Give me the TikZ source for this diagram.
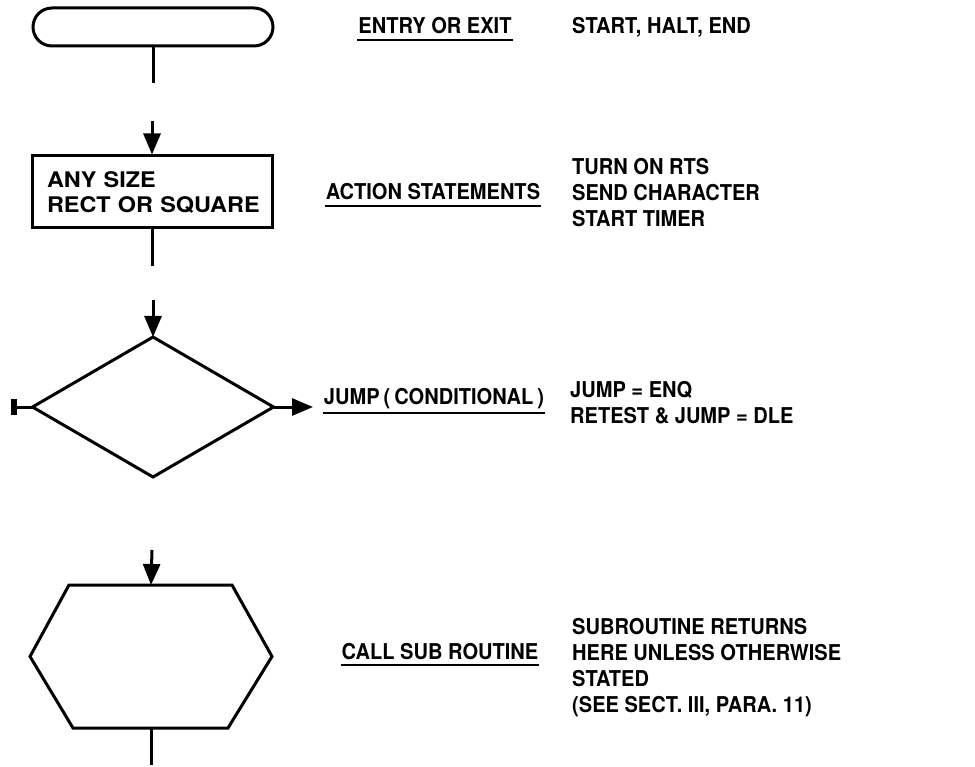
\documentclass[tikz,border=0pt]{standalone}
\usepackage{fontspec}
\setmainfont[FakeStretch=0.92]{TeX Gyre Heros}
\newfontfamily\boxfam[FakeStretch=1.09]{TeX Gyre Heros}
\usetikzlibrary{arrows.meta}
\begin{document}
\begin{tikzpicture}[x=1pt,y=-1pt,
  shapeline/.style={draw, line width=3pt, line join=miter},
  flow/.style={line width=3pt},
  arr/.style={flow,-{Triangle[length=21pt,width=17pt]}},
  labtext/.style={font=\bfseries\fontsize{21.8}{26}\selectfont, inner sep=0pt, anchor=base},
  desctext/.style={font=\bfseries\fontsize{21.8}{26}\selectfont, inner sep=0pt, anchor=base west, align=left},
  uline/.style={line width=2pt}]
\useasboundingbox (0,0) rectangle (975,767);

% entry / exit
\node[shapeline, minimum width=240pt, minimum height=38pt, rounded corners=19pt, inner sep=0pt] (term) at (153,27) {};
\coordinate (t1) at (153,83);
\draw[flow] (term.south) -- (t1);

% action box
\coordinate (b0) at (152,121);
\node[shapeline, minimum width=240pt, minimum height=72pt, text width=226pt, inner xsep=7pt, inner ysep=0pt, align=left,
      font=\boxfam\bfseries\fontsize{21.5}{25}\selectfont] (box) at (152,192) {\hspace*{8pt}ANY SIZE\\\hspace*{8pt}RECT OR SQUARE};
\draw[arr] (b0) -- (box.north);
\coordinate (b1) at (152,266);
\draw[flow] (box.south) -- (b1);

% decision diamond
\node[minimum width=241pt, minimum height=140pt, inner sep=0pt, outer sep=0pt] (dia) at (153,407) {};
\draw[shapeline] (dia.north) -- (dia.east) -- (dia.south) -- (dia.west) -- cycle;
\coordinate (d0) at (153,300);
\draw[arr] (d0) -- (dia.north);
\coordinate (d1) at (313,407);
\draw[arr] (dia.east) -- (d1);
\coordinate (d2) at (11,407);
\draw[flow,-{Bar[width=16pt,line width=6pt]}] (dia.west) -- (d2);

% subroutine hexagon
\node[minimum width=242pt, minimum height=143pt, inner sep=0pt, outer sep=0pt] (hex) at (151,656.5) {};
\draw[shapeline] ([xshift=39pt]hex.north west) -- ([xshift=-40pt]hex.north east) -- (hex.east)
   -- ([xshift=-44pt]hex.south east) -- ([xshift=43pt]hex.south west) -- (hex.west) -- cycle;
\coordinate (h0) at (152,550);
\draw[arr] (h0) -- (hex.north);
\coordinate (h1) at (151,765);
\draw[flow] (hex.south) -- (h1);

% middle labels
\node[labtext] (l1) at (435,34) {ENTRY OR EXIT};
\draw[uline] ([xshift=-1pt,yshift=-6pt]l1.base west) -- ([xshift=1pt,yshift=-6pt]l1.base east);
\node[labtext] (l2) at (433,200) {ACTION STATEMENTS};
\draw[uline] ([xshift=-1pt,yshift=-6pt]l2.base west) -- ([xshift=1pt,yshift=-6pt]l2.base east);
\node[labtext] (l3) at (434,404) {\spaceskip=4pt\relax JUMP ( CONDITIONAL )};
\draw[uline] ([xshift=-1pt,yshift=-9pt]l3.base west) -- ([xshift=1pt,yshift=-9pt]l3.base east);
\node[labtext] (l4) at (440,659) {CALL SUB ROUTINE};
\draw[uline] ([xshift=-1pt,yshift=-6pt]l4.base west) -- ([xshift=1pt,yshift=-6pt]l4.base east);

% right descriptions (base = last line)
\node[desctext] (r1) at (572,34) {START, HALT, END};
\node[desctext] (r2) at (572,227) {TURN ON RTS\\SEND CHARACTER\\START TIMER};
\node[desctext, font=\bfseries\fontsize{21.8}{25}\selectfont] (r3) at (570,423) {JUMP = ENQ\\RETEST \& JUMP = DLE};
\node[desctext] (r4) at (572,712) {SUBROUTINE RETURNS\\HERE UNLESS OTHERWISE\\STATED\\(SEE SECT. III, PARA. 11)};
\end{tikzpicture}
\end{document}
